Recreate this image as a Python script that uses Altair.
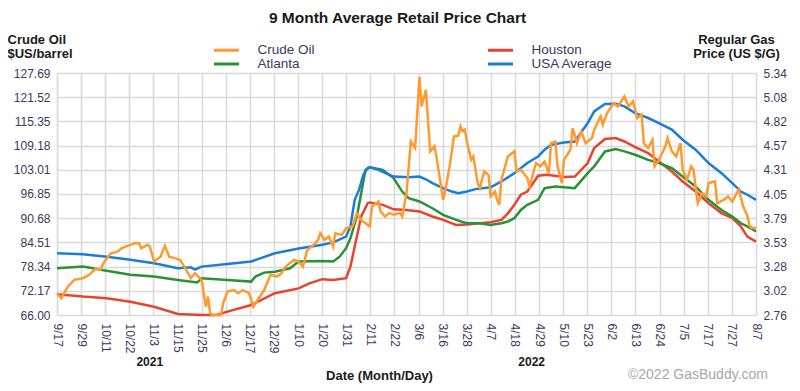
import altair as alt
import pandas as pd

# ---------------- data ----------------
# x-axis tick labels (evenly spaced between 9/17/2021 and 8/7/2022)
date_labels = ['9/17', '9/29', '10/11', '10/22', '11/3', '11/15', '11/25', '12/6', '12/17', '12/29',
               '1/10', '1/20', '1/31', '2/11', '2/22', '3/6', '3/16', '3/28', '4/7', '4/18',
               '4/29', '5/10', '5/23', '6/2', '6/13', '6/24', '7/5', '7/17', '7/27', '8/7']
total_days = 324  # days from 9/17/2021 to 8/7/2022

crude_ticks = [66.00, 72.17, 78.34, 84.51, 90.68, 96.85, 103.01, 109.18, 115.35, 121.52, 127.69]
gas_ticks = [2.76, 3.02, 3.28, 3.53, 3.79, 4.05, 4.31, 4.57, 4.82, 5.08, 5.34]

# Crude oil ($US/barrel), day offset since 9/17/2021
crude_days = [0, 2, 5, 8, 12, 15, 18, 20, 22, 25, 28, 30, 34, 36, 38, 39, 42, 43, 45, 48, 50, 52, 55, 57, 59,
              62, 64, 67, 69, 70, 71, 72, 76, 77, 79, 82, 84, 86, 89, 91, 93, 96, 98, 99, 102, 104, 106, 110,
              112, 114, 116, 119, 121, 122, 124, 126, 128, 129, 132, 134, 137, 139, 141, 143, 145, 146, 149,
              150, 152, 154, 156, 159, 160, 162, 164, 166, 168, 169, 171, 172, 173, 175, 176, 179, 180, 182,
              184, 186, 187, 188, 189, 190, 192, 193, 195, 196, 198, 200, 201, 203, 204, 205, 206, 209, 212,
              213, 215, 218, 219, 222, 224, 226, 228, 229, 231, 232, 234, 235, 238, 239, 241, 243, 245, 248,
              249, 252, 253, 255, 258, 260, 263, 265, 267, 269, 271, 272, 274, 276, 277, 279, 282, 283, 285,
              287, 289, 290, 292, 294, 295, 297, 299, 301, 302, 305, 306, 309, 311, 313, 316, 318, 320, 321,
              322, 324]
crude_vals = [71.55, 70.26, 73.22, 74.95, 75.38, 76.24, 77.91, 77.47, 79.63, 81.73, 82.16, 83.03, 83.89, 84.32,
              84.32, 83.03, 83.89, 83.46, 79.63, 80.87, 83.64, 80.87, 80.44, 80.07, 78.34, 75.38, 76.61, 74.95,
              68.10, 70.69, 66.43, 66.00, 66.00, 68.96, 71.98, 72.35, 71.55, 72.35, 71.55, 68.10, 69.82, 72.35,
              74.95, 76.24, 75.81, 76.61, 78.34, 80.07, 79.57, 78.34, 82.59, 83.89, 85.12, 86.85, 85.12, 85.99,
              83.46, 86.85, 86.42, 88.15, 88.58, 91.97, 90.24, 89.38, 88.58, 93.64, 94.93, 92.40, 91.11, 91.97,
              91.54, 91.97, 91.11, 97.03, 110.23, 108.56, 126.64, 119.18, 123.43, 115.35, 107.70, 109.00, 105.98,
              95.36, 97.89, 103.88, 111.53, 111.71, 114.06, 112.82, 113.25, 110.23, 105.54, 106.41, 99.62, 98.33,
              102.58, 101.72, 96.23, 97.46, 95.36, 94.07, 100.48, 106.41, 107.70, 102.58, 103.01, 100.92, 98.76,
              104.74, 103.88, 105.11, 102.15, 109.80, 110.23, 103.88, 99.62, 105.54, 108.13, 113.62, 109.80,
              112.82, 109.80, 111.10, 113.25, 116.65, 114.49, 117.45, 120.04, 119.18, 121.71, 119.18, 120.47,
              116.22, 117.08, 109.80, 108.56, 110.66, 103.88, 105.54, 109.00, 111.10, 107.70, 106.41, 109.80,
              103.01, 100.48, 103.88, 103.01, 94.50, 97.03, 96.23, 99.62, 100.05, 94.50, 95.36, 96.23, 94.93,
              98.08, 93.76, 91.29, 88.83, 88.20, 88.15]

# Regular gas (US $/G)
usa_days = [0, 12, 23, 34, 45, 56, 62, 64, 67, 79, 90, 101, 112, 123, 128, 134, 136, 138, 140, 142, 144, 145,
            149, 154, 156, 163, 168, 171, 174, 179, 183, 186, 190, 194, 201, 206, 212, 218, 223, 226, 229, 235,
            240, 246, 249, 254, 259, 263, 268, 274, 279, 285, 290, 296, 302, 308, 313, 317, 320, 324]
usa_vals = [3.418, 3.408, 3.382, 3.348, 3.312, 3.258, 3.268, 3.245, 3.276, 3.304, 3.330, 3.418, 3.470, 3.508,
            3.534, 3.596, 3.704, 3.988, 4.094, 4.254, 4.326, 4.334, 4.308, 4.254, 4.236, 4.228, 4.236, 4.207,
            4.166, 4.112, 4.076, 4.058, 4.076, 4.102, 4.122, 4.184, 4.272, 4.380, 4.450, 4.522, 4.574, 4.600,
            4.610, 4.806, 4.930, 5.010, 5.012, 4.984, 4.912, 4.860, 4.806, 4.736, 4.628, 4.522, 4.380, 4.272,
            4.166, 4.076, 4.042, 3.988]

atl_days = [0, 12, 23, 34, 45, 56, 65, 67, 79, 90, 92, 96, 101, 108, 112, 123, 128, 131, 134, 136, 139, 141,
            143, 145, 151, 156, 160, 163, 168, 174, 179, 185, 190, 196, 201, 206, 209, 212, 215, 218, 223, 226,
            231, 235, 240, 246, 249, 254, 259, 263, 268, 274, 279, 285, 290, 296, 302, 308, 313, 317, 320, 324]
atl_vals = [3.258, 3.276, 3.232, 3.188, 3.170, 3.134, 3.106, 3.152, 3.134, 3.116, 3.170, 3.212, 3.222, 3.258,
            3.330, 3.335, 3.330, 3.382, 3.472, 3.578, 3.810, 4.058, 4.308, 4.334, 4.308, 4.220, 4.076, 4.006,
            3.970, 3.898, 3.828, 3.774, 3.738, 3.738, 3.720, 3.738, 3.756, 3.792, 3.880, 3.934, 3.988, 4.112,
            4.130, 4.122, 4.112, 4.272, 4.344, 4.504, 4.530, 4.504, 4.468, 4.414, 4.380, 4.326, 4.236, 4.130,
            3.988, 3.880, 3.810, 3.738, 3.704, 3.650]

hou_days = [0, 12, 23, 34, 45, 56, 67, 74, 79, 90, 101, 112, 117, 123, 128, 134, 136, 139, 141, 144, 145, 151,
            156, 162, 168, 174, 179, 185, 190, 196, 201, 206, 209, 212, 215, 218, 223, 227, 235, 240, 246, 249,
            254, 259, 263, 268, 274, 279, 285, 290, 296, 302, 308, 313, 317, 320, 324]
hou_vals = [2.982, 2.956, 2.938, 2.902, 2.848, 2.770, 2.760, 2.760, 2.796, 2.866, 2.992, 3.044, 3.098, 3.142,
            3.134, 3.152, 3.276, 3.596, 3.810, 3.952, 3.960, 3.934, 3.887, 3.880, 3.864, 3.810, 3.774, 3.720,
            3.725, 3.738, 3.748, 3.774, 3.844, 3.934, 4.042, 4.076, 4.244, 4.254, 4.231, 4.236, 4.380, 4.540,
            4.636, 4.646, 4.610, 4.551, 4.486, 4.396, 4.290, 4.184, 4.076, 3.952, 3.846, 3.792, 3.704, 3.596,
            3.542]

year_labels = ['2021', '2022']
year_days = [43, 220]

# legend fills column by column: (Crude Oil, Atlanta) | (Houston, USA Average)
series_names = ['Crude Oil', 'Atlanta', 'Houston', 'USA Average']
series_colors = ['#FF9A2E', '#2A9236', '#E8432E', '#1C7CDB']

for a, b in [(crude_days, crude_vals), (usa_days, usa_vals), (atl_days, atl_vals), (hou_days, hou_vals)]:
    assert len(a) == len(b), (len(a), len(b))

# ---------------- tables ----------------
crude_df = pd.DataFrame({'day': crude_days, 'value': crude_vals, 'series': 'Crude Oil'})
gas_df = pd.concat([
    pd.DataFrame({'day': hou_days, 'value': hou_vals, 'series': 'Houston'}),
    pd.DataFrame({'day': atl_days, 'value': atl_vals, 'series': 'Atlanta'}),
    pd.DataFrame({'day': usa_days, 'value': usa_vals, 'series': 'USA Average'}),
], ignore_index=True)
year_df = pd.DataFrame({'day': year_days, 'year': year_labels})
copy_df = pd.DataFrame({'t': ['©2022 GasBuddy.com']})

FONT = 'Liberation Sans'
LABEL_COLOR = '#3a3a5c'
W, H = 699, 242

n = len(date_labels) - 1
x_tick_vals = [total_days * i / n for i in range(n + 1)]
label_js = '[' + ','.join("'%s'" % s for s in date_labels) + ']'

x_scale = alt.Scale(domain=[0, total_days], nice=False, zero=False)
x_axis = alt.Axis(values=x_tick_vals, labelExpr=f"{label_js}[round(datum.value*{n}/{total_days})]",
                  labelAngle=90, labelAlign='left', labelBaseline='middle', labelPadding=8,
                  labelFontSize=12, labelColor=LABEL_COLOR, labelFont=FONT,
                  grid=True, gridColor='#dadada', gridWidth=1.6, ticks=False, domain=False,
                  title='Date (Month/Day)', titleFont=FONT, titleFontSize=13, titleFontWeight='bold',
                  titleColor='#1a1a1a', titleX=322, titleY=64, titleAlign='center',
                  titleBaseline='alphabetic', labelOverlap=False, labelFlush=False)
x_enc = alt.X('day:Q', scale=x_scale, axis=x_axis)

color_enc = alt.Color('series:N',
                      scale=alt.Scale(domain=series_names, range=series_colors),
                      legend=alt.Legend(title=None, orient='none', legendX=156, legendY=-30,
                                        columns=2, columnPadding=167, rowPadding=0, padding=0,
                                        symbolType='M-2.27,0H2.27', symbolSize=121, symbolStrokeWidth=3,
                                        symbolOffset=6.5, labelFontSize=13.5, labelOffset=24,
                                        labelColor=LABEL_COLOR, labelFont=FONT))

crude_layer = alt.Chart(crude_df).mark_line(strokeWidth=2.5).encode(
    x=x_enc,
    y=alt.Y('value:Q', scale=alt.Scale(domain=[66.0, 127.69], nice=False, zero=False),
            axis=alt.Axis(orient='left', values=crude_ticks, format='.2f', grid=True,
                          gridColor='#dadada', gridWidth=1.6, domain=False, ticks=False,
                          labelPadding=7, labelFontSize=12, labelColor=LABEL_COLOR, labelFont=FONT,
                          title=['Crude Oil', '$US/barrel'], titleAngle=0, titleAlign='left',
                          titleBaseline='alphabetic', titleX=-50, titleY=-30, titleFont=FONT,
                          titleFontSize=13, titleFontWeight='bold', titleColor='#1a1a1a',
                          titleLineHeight=14)),
    color=color_enc,
)

gas_layer = alt.Chart(gas_df).mark_line(strokeWidth=2.5).encode(
    x=x_enc,
    y=alt.Y('value:Q', scale=alt.Scale(domain=[2.76, 5.34], nice=False, zero=False),
            axis=alt.Axis(orient='right', values=gas_ticks, format='.2f', grid=False,
                          domain=False, ticks=False, labelPadding=7, labelFontSize=12,
                          labelColor=LABEL_COLOR, labelFont=FONT,
                          title=['Regular Gas', 'Price (US $/G)'], titleAngle=0, titleAlign='center',
                          titleBaseline='alphabetic', titleX=-20, titleY=-30, titleFont=FONT,
                          titleFontSize=13, titleFontWeight='bold', titleColor='#1a1a1a',
                          titleLineHeight=14)),
    color=color_enc,
    detail='series:N',
)

year_layer = alt.Chart(year_df).mark_text(font=FONT, fontSize=12, fontWeight='bold', color='#1a1a1a',
                                          baseline='alphabetic', align='center').encode(
    x=x_enc,
    y=alt.value(H + 51),
    text='year:N',
)

copy_layer = alt.Chart(copy_df).mark_text(font=FONT, fontSize=14, color='#a8a8a8',
                                          baseline='alphabetic', align='right').encode(
    x=alt.value(711),
    y=alt.value(H + 64),
    text='t:N',
)

chart = alt.layer(gas_layer, crude_layer, year_layer, copy_layer).resolve_scale(
    y='independent'
).properties(
    width=W, height=H,
    title=alt.TitleParams('9 Month Average Retail Price Chart', font=FONT, fontSize=15.5,
                          fontWeight='bold', color='#1a1a1a', anchor='middle', dx=-9, offset=7),
    autosize=alt.AutoSizeParams(type='none'),
    padding={'left': 49, 'top': 65, 'right': 36, 'bottom': 68},
).configure_view(
    stroke='#4a4a4a', strokeWidth=1.5
).configure(background='white')

chart.save('out.html', embed_options={'renderer': 'svg', 'actions': False})
